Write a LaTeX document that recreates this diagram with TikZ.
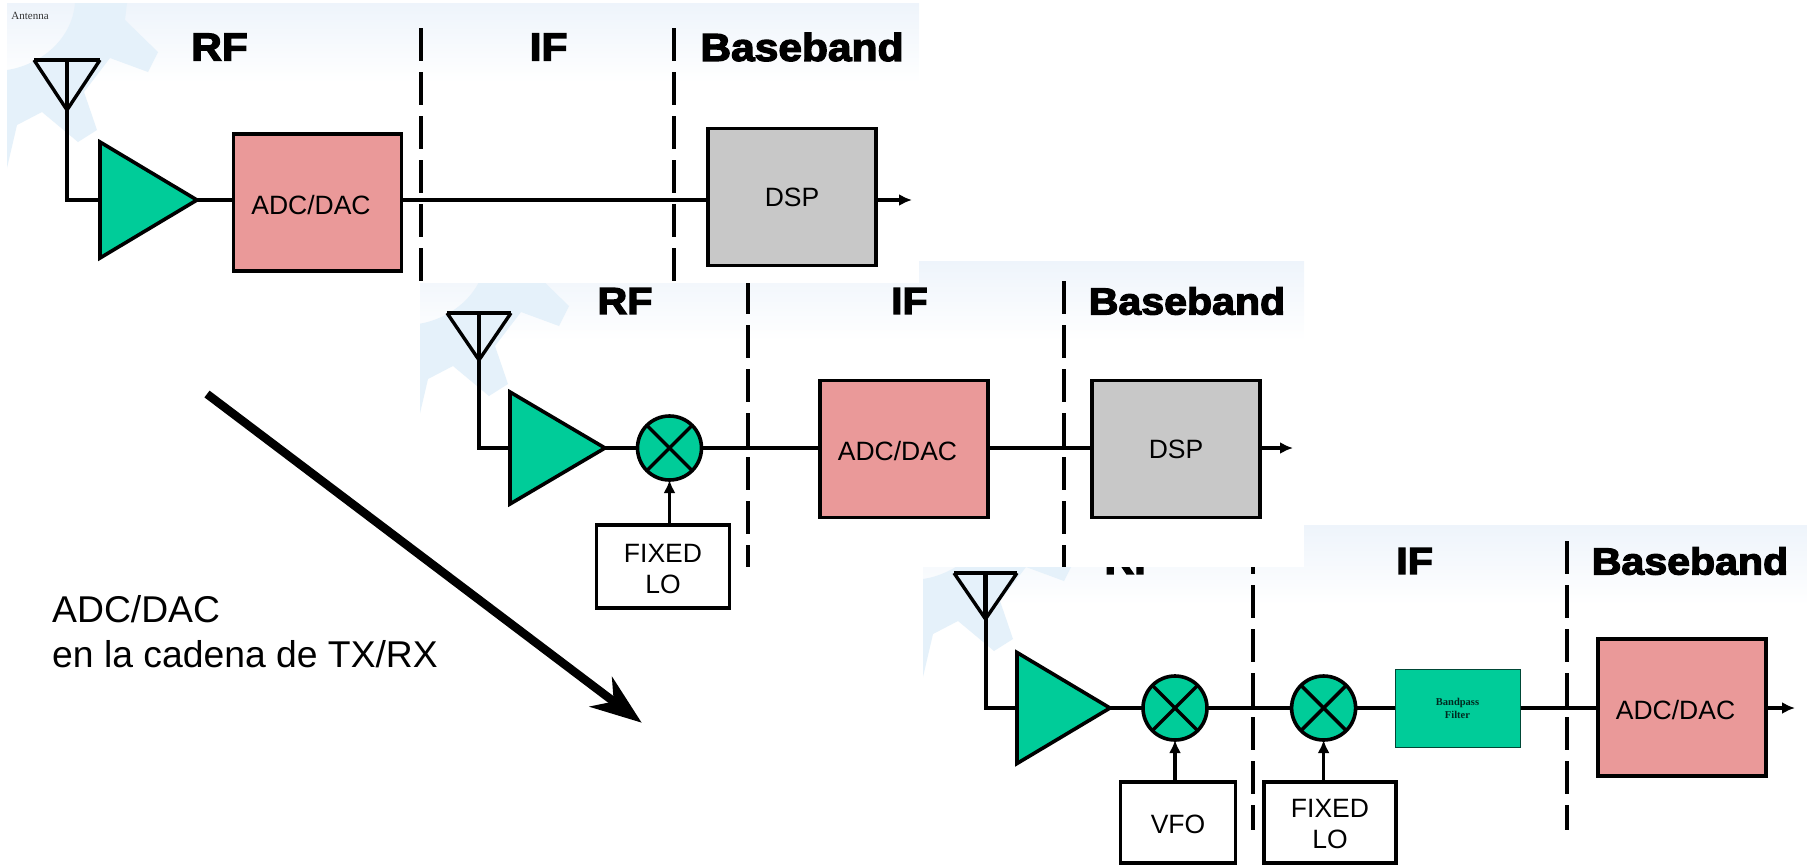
\documentclass[tikz,border=0pt]{standalone}
\usepackage{fontspec}
\setmainfont{Liberation Sans}
\newfontfamily\captionserif{Liberation Serif}
\newfontfamily\bandfont[FakeBold=3.4,FakeStretch=1.09]{Liberation Sans Bold}
\usetikzlibrary{arrows.meta,shapes.geometric}

\definecolor{ampgreen}{HTML}{00CC99}
\definecolor{adcpink}{HTML}{EA9999}
\definecolor{dspgrey}{HTML}{C8C8C8}
\definecolor{panelblue}{HTML}{EEF4FB}
\definecolor{gearblue}{HTML}{E5F1FA}

\tikzset{
  sigline/.style={line width=4pt},
  arrowline/.style={line width=4pt,-{Latex[length=13pt,width=12pt]}},
  bandline/.style={line width=4pt,dash pattern=on 33.4pt off 10.6pt},
  bandlabel/.style={font=\bandfont\fontsize{39}{39}\selectfont,inner sep=0pt},
  bandsmall/.style={font=\bandfont\fontsize{37.7}{38}\selectfont,inner sep=0pt},
  blockbox/.style={draw,line width=3.6pt,inner sep=0pt,outer sep=0pt,font=\fontsize{26.5}{31}\selectfont,align=center},
  adcbox/.style={blockbox,fill=adcpink,minimum width=168pt,minimum height=137pt,
    execute at begin node={\rule{0pt}{23.6pt}\kern-13pt}},
  dspbox/.style={blockbox,fill=dspgrey,minimum width=168pt,minimum height=137pt},
  lobox/.style={blockbox,fill=white},
  ampshape/.style={isosceles triangle,isosceles triangle stretches,draw,fill=ampgreen,line width=3.6pt,
    inner sep=0pt,outer sep=0pt,anchor=lower side},
  mixshape/.style={circle,draw,fill=ampgreen,line width=3.6pt,inner sep=0pt,outer sep=0pt,minimum size=64pt,
    path picture={
      \draw[line width=3.4pt] (path picture bounding box.north west)--(path picture bounding box.south east);
      \draw[line width=3.4pt] (path picture bounding box.south west)--(path picture bounding box.north east);
    }},
}

% White slide with its pale band and cog: x1,y1,x2,y2, then the shift of the cog
\newcommand{\panelback}[6]{
  \fill[white] (#1,#2) rectangle (#3,#4);
  \begin{scope}
    \clip (#1,#2) rectangle (#3,#4);
    \shade[top color=panelblue,bottom color=white] (#1,#2) rectangle (#3,#2+80);
    \fill[gearblue,xshift=#5pt,yshift=-#6pt] (7,70) .. controls (40,65) and (72,40) .. (75,3)
      -- (127,3) -- (125,20) -- (158,52) -- (148,72) -- (110,58) -- (84,92) -- (97,130)
      -- (78,142) -- (42,112) -- (17,125) -- (7,168) -- cycle;
  \end{scope}
}

% Antenna: name, mast x, bar y, half width, tip y
\newcommand{\antennamark}[5]{
  \coordinate (#1tip) at (#2,#5);
  \draw[line width=4.6pt] (#2-#4,#3) -- (#2+#4,#3);
  \draw[line width=3.4pt] (#2-#4,#3) -- (#1tip) -- (#2+#4,#3);
  \draw[line width=4.4pt] (#2,#3) -- (#1tip);
}

\begin{document}
\begin{tikzpicture}[x=1pt,y=-1pt]
\useasboundingbox (0,0) rectangle (1807,865);

% Third chain, lowest of the three slides
\panelback{923}{525}{1807}{865}{916}{509}
\node [bandsmall] (rfC) at (1132,561) {RF};
\node [bandsmall] (ifC) at (1414.6,561) {IF};
\node [bandsmall] (baseC) at (1690,561) {Baseband};
\foreach \x in {1253,1567}
	\draw [bandline] (\x,541)--(\x,830);
\antennamark{antC}{985.5}{573}{31.5}{619}
\node [ampshape,minimum height=93pt,minimum width=111pt] (ampC) at (1017,708) {};
\node [mixshape] (mixC) at (1175,708) {};
\node [mixshape] (mixD) at (1323.6,708) {};
\node [draw=black!65!ampgreen,line width=1pt,fill=ampgreen,minimum width=125pt,minimum height=78pt,inner sep=0pt,
  align=center,font=\captionserif\bfseries\fontsize{10.5}{13}\selectfont,text=black!80!ampgreen] (filterC) at (1457.5,708) {Bandpass\\Filter};
\node [adcbox] (adcC) at (1682,707.5) {ADC/DAC};
\node [lobox,minimum width=115pt,minimum height=81pt] (vfoC) at (1178,822.5) {\rule{0pt}{23pt}VFO};
\node [lobox,minimum width=132pt,minimum height=81pt] (loC) at (1330,822.5) {\\[-10pt]FIXED\\LO};
\coordinate (outC) at (1795,708);
\draw [sigline] (antCtip) |- (ampC.lower side);
\draw [sigline] (ampC.apex)--(mixC.west);
\draw [sigline] (mixC.east)--(mixD.west);
\draw [sigline] (mixD.east)--(filterC.west);
\draw [sigline] (filterC.east)--(adcC.west |- filterC.east);
\draw [arrowline] (adcC.east |- outC)--(outC);
\draw [arrowline,line width=3.4pt] (mixC.south |- vfoC.north)--(mixC.south);
\draw [arrowline,line width=3.4pt] (mixD.south |- loC.north)--(mixD.south);

% Second chain
\panelback{420}{261}{1304}{567}{411}{254}
\node [bandsmall] (rfB) at (625,301) {RF};
\node [bandsmall] (ifB) at (909.4,301) {IF};
\node [bandsmall] (baseB) at (1187,301) {Baseband};
\foreach \x in {747.5,1064}
	\draw [bandline] (\x,281)--(\x,567);
\antennamark{antB}{479}{313}{32}{360}
\node [ampshape,minimum height=95pt,minimum width=112pt] (ampB) at (510,448) {};
\node [mixshape] (mixB) at (669.5,448) {};
\node [adcbox] (adcB) at (904,449) {ADC/DAC};
\node [dspbox] (dspB) at (1176,449) {DSP};
\node [lobox,minimum width=133pt,minimum height=83pt] (loB) at (663,566.5) {\\[-8pt]FIXED\\LO};
\coordinate (outB) at (1293,448);
\draw [sigline] (antBtip) |- (ampB.lower side);
\draw [sigline] (ampB.apex)--(mixB.west);
\draw [sigline] (mixB.east)--(adcB.west |- mixB.east);
\draw [sigline] (adcB.east |- mixB.east)--(dspB.west |- mixB.east);
\draw [arrowline] (dspB.east |- outB)--(outB);
\draw [arrowline,line width=3.4pt] (mixB.south |- loB.north)--(mixB.south);

% First chain, on top of the others
\panelback{7}{3}{919}{283}{0}{0}
\node [font=\captionserif\fontsize{11}{11}\selectfont,inner sep=0pt,text=black!80] (antennaA) at (30,15.5) {Antenna};
\node [bandlabel] (rfA) at (219.5,47) {RF};
\node [bandlabel] (ifA) at (548.6,47) {IF};
\node [bandlabel] (baseA) at (802,47) {Baseband};
\foreach \x in {420.5,674}
	\draw [bandline] (\x,28)--(\x,283);
\antennamark{antA}{67}{60}{33}{110}
\node [ampshape,minimum height=97pt,minimum width=116pt] (ampA) at (100,200) {};
\node [adcbox] (adcA) at (317.5,202.5) {ADC/DAC};
\node [dspbox] (dspA) at (792,197) {DSP};
\coordinate (outA) at (912,200);
\draw [sigline] (antAtip) |- (ampA.lower side);
\draw [sigline] (ampA.apex)--(adcA.west |- ampA.apex);
\draw [sigline] (adcA.east |- ampA.apex)--(dspA.west |- ampA.apex);
\draw [arrowline] (dspA.east |- outA)--(outA);

% Caption and the long arrow
\node [anchor=west,align=left,inner sep=0pt,font=\fontsize{37.3}{45}\selectfont] (chainText) at (52,632) {ADC/DAC\\en la cadena de TX/RX};
\coordinate (arrowStart) at (207,394);
\coordinate (arrowEnd) at (641.7,722.7);
\draw [line width=8.5pt,-{Stealth[length=51pt,width=37pt,inset=16pt]}] (arrowStart)--(arrowEnd);

\end{tikzpicture}
\end{document}
